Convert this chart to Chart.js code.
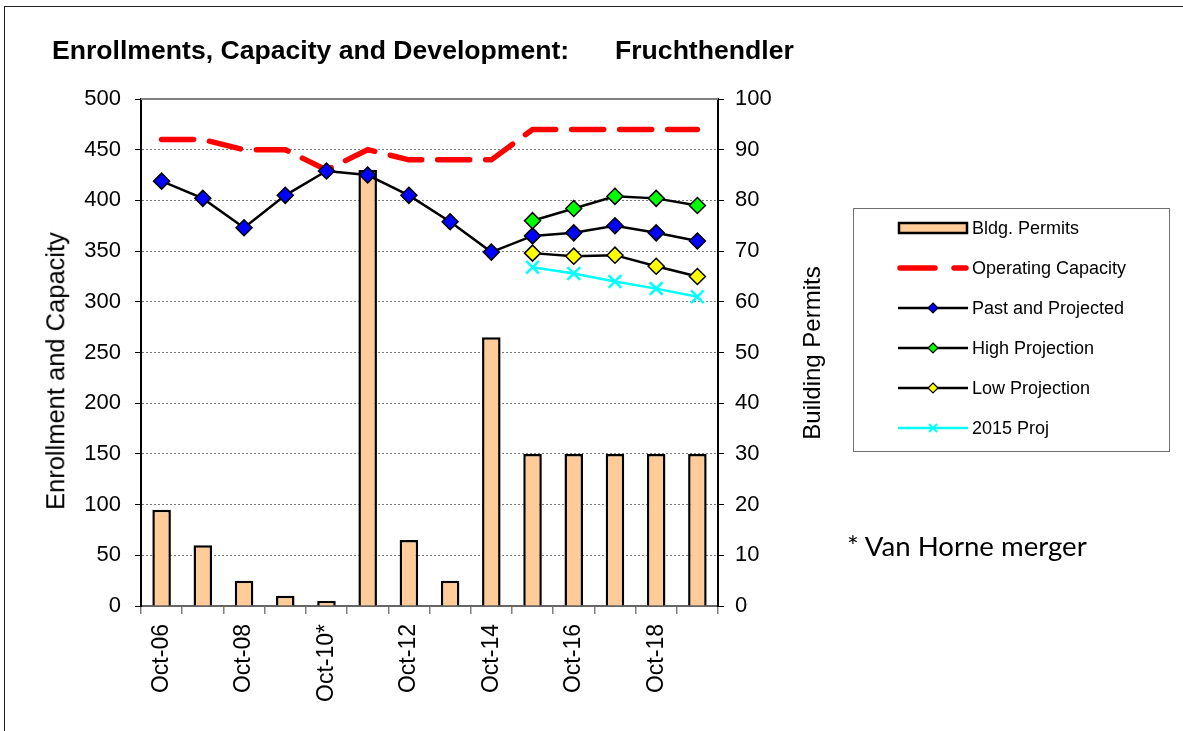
<!DOCTYPE html>
<html>
<head>
<meta charset="utf-8">
<script src="https://cdn.jsdelivr.net/npm/chart.js@4.4.1/dist/chart.umd.min.js"></script>
<style>
  html, body { margin: 0; padding: 0; background: #fff; }
  body { width: 1183px; height: 731px; position: relative; overflow: hidden; font-family: "Liberation Sans", Arial, sans-serif; }
  #frame { position: absolute; left: 4px; top: 6px; width: 1300px; height: 900px; border: 1px solid #222; }
  canvas { position: absolute; left: 0; top: 0; }
  .title { position: absolute; top: 37px; font-weight: bold; font-size: 26.6px; line-height: 26px; color: #000; white-space: nowrap; }
  .axisTitle { position: absolute; transform: translate(-50%, -50%) rotate(-90deg); white-space: nowrap; color: #000; line-height: 1; }
  #legend { position: absolute; left: 853px; top: 208px; width: 317px; height: 244px; border: 1px solid #707070; box-sizing: border-box; background: #fff; }
  .lrow { position: absolute; left: 0; height: 40px; display: flex; align-items: center; }
  .lrow svg { position: absolute; left: 43px; }
  .lrow span { position: absolute; left: 118px; font-size: 18px; white-space: nowrap; color: #000; }
  #note { position: absolute; left: 847px; top: 533px; font-family: Lato, "Open Sans", sans-serif; font-size: 27.6px; line-height: 26px; white-space: nowrap; color: #000; }
</style>
</head>
<body>
<div id="frame"></div>
<canvas id="c" width="1183" height="731"></canvas>
<div class="title" style="left:52px">Enrollments, Capacity and Development:</div>
<div class="title" style="left:615px">Fruchthendler</div>
<div class="axisTitle" style="left:56px; top:371px; font-size:25.5px">Enrollment and Capacity</div>
<div class="axisTitle" style="left:812px; top:353px; font-size:24px">Building Permits</div>
<div id="legend"></div>
<div id="note">* Van Horne merger</div>
<script>
// ---- data ----
const categories = ['Oct-06','Oct-07','Oct-08','Oct-09','Oct-10*','Oct-11','Oct-12','Oct-13','Oct-14','Oct-15','Oct-16','Oct-17','Oct-18','Oct-19'];
const bldgPermits = [19, 12, 5, 2, 1, 86, 13, 5, 53, 30, 30, 30, 30, 30];
const operatingCapacity = [460, 460, 450, 450, 430, 450, 440, 440, 440, 470, 470, 470, 470, 470];
const pastProjected = [419, 402, 373, 405, 429, 425, 405, 379, 349, 365, 368, 375, 368, 360];
const highProjection = [null, null, null, null, null, null, null, null, null, 380, 392, 404, 402, 395];
const lowProjection = [null, null, null, null, null, null, null, null, null, 348, 345, 346, 335, 325];
const proj2015 = [null, null, null, null, null, null, null, null, null, 334, 328, 320, 313, 305];
const leftTicks = [0, 50, 100, 150, 200, 250, 300, 350, 400, 450, 500];
const rightTicks = [0, 10, 20, 30, 40, 50, 60, 70, 80, 90, 100];
const seriesNames = ['Bldg. Permits', 'Operating Capacity', 'Past and Projected', 'High Projection', 'Low Projection', '2015 Proj'];

const FONT = "'Liberation Sans', Arial, sans-serif";

const framePlugin = {
  id: 'frameTop',
  beforeDatasetsDraw(chart) {
    const {ctx, chartArea: a} = chart;
    ctx.save();
    ctx.strokeStyle = '#808080';
    ctx.lineWidth = 2;
    ctx.beginPath();
    ctx.moveTo(a.left, a.top);
    ctx.lineTo(a.right, a.top);
    ctx.stroke();
    ctx.restore();
  }
};

const lineBase = {
  type: 'line',
  yAxisID: 'y',
  borderColor: '#000',
  borderWidth: 2.5,
  pointStyle: 'rectRot',
  pointRadius: 8,
  pointBorderColor: '#000',
  pointBorderWidth: 1.5,
  fill: false,
  tension: 0,
  spanGaps: false
};

const chart = new Chart(document.getElementById('c'), {
  data: {
    labels: categories,
    datasets: [
      { type: 'bar', label: seriesNames[0], data: bldgPermits, yAxisID: 'y1', backgroundColor: '#FFCC99', borderColor: '#000', borderWidth: 2.5, barPercentage: 0.45, categoryPercentage: 1, order: 10 },
      Object.assign({}, lineBase, { label: seriesNames[1], data: operatingCapacity, borderColor: '#FF0000', borderWidth: 5.5, borderDash: [32, 16], borderCapStyle: 'round', pointRadius: 0, order: 6 }),
      Object.assign({}, lineBase, { label: seriesNames[2], data: pastProjected, pointBackgroundColor: '#0000FF', order: 5 }),
      Object.assign({}, lineBase, { label: seriesNames[3], data: highProjection, pointBackgroundColor: '#00FF00', order: 4 }),
      Object.assign({}, lineBase, { label: seriesNames[4], data: lowProjection, pointBackgroundColor: '#FFFF00', order: 3 }),
      Object.assign({}, lineBase, { label: seriesNames[5], data: proj2015, borderColor: '#00FFFF', pointStyle: 'crossRot', pointRadius: 9, pointBorderColor: '#00FFFF', pointBorderWidth: 2.5, order: 2 })
    ]
  },
  options: {
    responsive: false,
    animation: false,
    devicePixelRatio: 1,
    layout: { padding: { top: 99, left: 0, right: 0, bottom: 0 }, autoPadding: false },
    plugins: { legend: { display: false }, title: { display: false }, tooltip: { enabled: false } },
    scales: {
      x: {
        type: 'category',
        offset: true,
        grid: { offset: true, drawOnChartArea: false, drawTicks: true, tickLength: 8, color: '#808080', lineWidth: 1.5 },
        border: { display: true, color: '#666', width: 2 },
        ticks: {
          autoSkip: false, maxRotation: 90, minRotation: 90, padding: 10,
          color: '#000', font: { family: FONT, size: 23 },
          callback: function (value, index) { return index % 2 === 0 ? categories[index] : ''; }
        },
        afterFit: function (s) { s.height = 125; }
      },
      y: {
        position: 'left', min: leftTicks[0], max: leftTicks[leftTicks.length - 1],
        afterBuildTicks: function (s) { s.ticks = leftTicks.map(v => ({ value: v })); },
        grid: { color: '#7a7a7a', lineWidth: 1, drawTicks: true, tickLength: 6, tickColor: '#000', tickBorderDash: [], tickWidth: 1 },
        border: { display: true, color: '#000', width: 2, dash: [2, 2] },
        ticks: { padding: 14, color: '#000', font: { family: FONT, size: 22 } },
        afterFit: function (s) { s.width = 141; }
      },
      y1: {
        position: 'right', min: rightTicks[0], max: rightTicks[rightTicks.length - 1],
        afterBuildTicks: function (s) { s.ticks = rightTicks.map(v => ({ value: v })); },
        grid: { drawOnChartArea: false, drawTicks: true, tickLength: 6, color: '#000', lineWidth: 1 },
        border: { display: true, color: '#000', width: 2 },
        ticks: { padding: 11, color: '#000', font: { family: FONT, size: 22 } },
        afterFit: function (s) { s.width = 1183 - 718; }
      }
    }
  },
  plugins: [framePlugin]
});

// ---- legend built from the chart's datasets ----
(function buildLegend() {
  const legend = document.getElementById('legend');
  const NS = 'http://www.w3.org/2000/svg';
  chart.data.datasets.forEach(function (ds, i) {
    const row = document.createElement('div');
    row.className = 'lrow';
    row.style.top = (i * 40 - 1) + 'px';
    const svg = document.createElementNS(NS, 'svg');
    svg.setAttribute('width', '72');
    svg.setAttribute('height', '20');
    svg.setAttribute('viewBox', '0 0 72 20');
    let html = '';
    if (ds.type === 'bar') {
      html = '<rect x="2" y="5" width="68" height="10" fill="' + ds.backgroundColor + '" stroke="#000" stroke-width="2.5"/>';
    } else if (ds.borderDash) {
      html = '<line x1="3" y1="10" x2="38" y2="10" stroke="' + ds.borderColor + '" stroke-width="5.5" stroke-linecap="round"/>' +
             '<line x1="57" y1="10" x2="69" y2="10" stroke="' + ds.borderColor + '" stroke-width="5.5" stroke-linecap="round"/>';
    } else {
      html = '<line x1="1" y1="10" x2="71" y2="10" stroke="' + ds.borderColor + '" stroke-width="2.5"/>';
      if (ds.pointStyle === 'crossRot') {
        html += '<path d="M32 6 L40 14 M40 6 L32 14" stroke="' + ds.pointBorderColor + '" stroke-width="2"/>';
      } else {
        html += '<path d="M36 5 L41 10 L36 15 L31 10 Z" fill="' + ds.pointBackgroundColor + '" stroke="#000" stroke-width="1.2"/>';
      }
    }
    svg.innerHTML = html;
    const span = document.createElement('span');
    span.textContent = ds.label;
    row.appendChild(svg);
    row.appendChild(span);
    legend.appendChild(row);
  });
})();
</script>
</body>
</html>
